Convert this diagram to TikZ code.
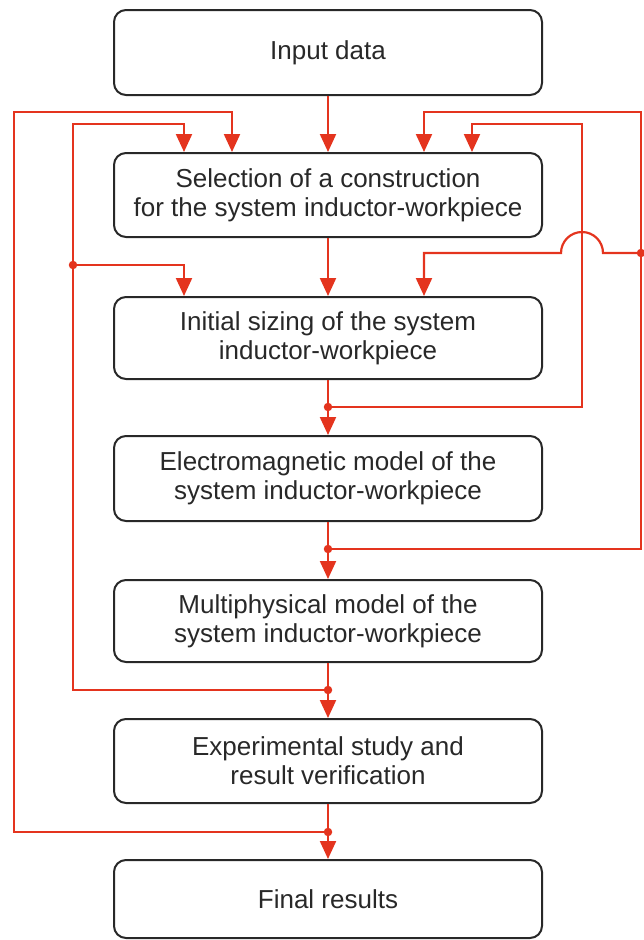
\documentclass[tikz,border=0pt]{standalone}
\usepackage{fontspec}
\setmainfont{Liberation Sans}
\usetikzlibrary{arrows.meta}
\definecolor{flowred}{RGB}{228,52,30}
\definecolor{boxgray}{RGB}{40,40,40}

\begin{document}
\begin{tikzpicture}[x=1pt,y=-1pt,
  stage/.style={draw=boxgray, line width=2pt, rounded corners=12pt,
    minimum width=428pt, inner sep=0pt, align=center, text=boxgray,
    font=\fontsize{26}{29}\selectfont},
  flow/.style={draw=flowred, line width=2.2pt,
    -{Triangle[length=18pt,width=16pt]}},
  jdot/.style={circle, fill=flowred, inner sep=0pt, minimum size=8.5pt}]
\useasboundingbox (0,0) rectangle (643,940);

% process stages
\node[stage, minimum height=85pt] (input)  at (328,52.5)  {Input data};
\node[stage, minimum height=84pt] (select) at (328,195)   {Selection of a construction\\for the system inductor-workpiece};
\node[stage, minimum height=82pt] (sizing) at (328,338)   {Initial sizing of the system\\inductor-workpiece};
\node[stage, minimum height=85pt] (emodel) at (328,478.5) {Electromagnetic model of the\\system inductor-workpiece};
\node[stage, minimum height=82pt] (mmodel) at (328,621)   {Multiphysical model of the\\system inductor-workpiece};
\node[stage, minimum height=84pt] (exper)  at (328,761)   {Experimental study and\\result verification};
\node[stage, minimum height=78pt] (final)  at (328,899)   {Final results};

% columns where the feedback lines enter the stages
\coordinate (xA) at (184,0);
\coordinate (xB) at (232,0);
\coordinate (xC) at (424,0);
\coordinate (xD) at (472,0);

% main flow
\draw[flow] (input.south)  -- (select.north);
\draw[flow] (select.south) -- (sizing.north);
\draw[flow] (sizing.south) -- (emodel.north);
\draw[flow] (emodel.south) -- (mmodel.north);
\draw[flow] (mmodel.south) -- (exper.north);
\draw[flow] (exper.south)  -- (final.north);

% branch points
\node[jdot] (dSize) at (328,407) {};
\node[jdot] (dEm)   at (328,549) {};
\node[jdot] (dMp)   at (328,690) {};
\node[jdot] (dExp)  at (328,832) {};
\node[jdot] (dL)    at (73,265)  {};
\node[jdot] (dR)    at (641,253) {};

% feedback loops
\draw[flow] (dExp.center) -- (14,832) -- (14,112) -- (232,112) -- (select.north -| xB);
\draw[flow] (dMp.center) -- (73,690) -- (73,124) -- (184,124) -- (select.north -| xA);
\draw[flow] (dL.center) -- (184,265) -- (sizing.north -| xA);
\draw[flow] (dSize.center) -- (582,407) -- (582,124) -- (472,124) -- (select.north -| xD);
\draw[flow] (dEm.center) -- (641,549) -- (641,112) -- (424,112) -- (select.north -| xC);
\draw[flow] (dR.center) -- (603,253) arc[start angle=0, end angle=180, radius=21pt]
  -- (424,253) -- (sizing.north -| xC);
\end{tikzpicture}
\end{document}
